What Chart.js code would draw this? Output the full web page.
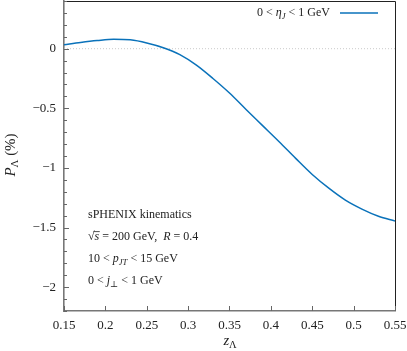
<!DOCTYPE html>
<html>
<head>
<meta charset="utf-8">
<script src="https://cdn.jsdelivr.net/npm/chart.js@4.4.1/dist/chart.umd.min.js"></script>
<style>
  html, body { margin: 0; padding: 0; background: #fff; }
  canvas { display: block; }
</style>
</head>
<body>
<canvas id="pol-chart" width="407" height="351"></canvas>
<script>
// values
const zLambda = [0.15, 0.17, 0.19, 0.21, 0.23, 0.25, 0.27, 0.29, 0.31, 0.33, 0.35,
                 0.37, 0.39, 0.41, 0.43, 0.45, 0.47, 0.49, 0.51, 0.53, 0.55];
const polLambda = [0.033, 0.052, 0.068, 0.079, 0.074, 0.048, 0.008, -0.05, -0.138, -0.25, -0.372,
                   -0.51, -0.645, -0.78, -0.92, -1.055, -1.17, -1.27, -1.345, -1.405, -1.445];
const yMajorTicks = [0, -0.5, -1, -1.5, -2];
const xTickStep = 0.05;

const SERIF = '"Liberation Serif", "DejaVu Serif", serif';
const LINE_BLUE = '#0a72ba';
const TEXT_COL = '#222';

function fontFor(p, size) {
    const s = p.sub ? size * 0.72 : size;
    return (p.i ? 'italic ' : '') + s + 'px ' + SERIF;
}

// draws a run of text pieces (italic, subscript, overbar) on one baseline
function drawRich(ctx, x, y, parts, size, align) {
    let total = 0;
    parts.forEach(p => {
        ctx.font = fontFor(p, size);
        p.w = ctx.measureText(p.t).width;
        total += p.w;
    });
    let cx = x;
    if (align === 'right') cx = x - total;
    if (align === 'center') cx = x - total / 2;
    ctx.textAlign = 'left';
    ctx.textBaseline = 'middle';
    parts.forEach(p => {
        ctx.font = fontFor(p, size);
        const dy = p.sub ? size * 0.3 : 0;
        ctx.fillText(p.t, cx, y + dy);
        if (p.bar) {
            ctx.beginPath();
            ctx.lineWidth = 0.8;
            ctx.moveTo(cx - 1, y - size * 0.45);
            ctx.lineTo(cx + p.w + 0.5, y - size * 0.45);
            ctx.stroke();
        }
        cx += p.w;
    });
}

const decorPlugin = {
    id: 'decor',
    beforeDatasetsDraw(chart) {
        const ctx = chart.ctx, area = chart.chartArea;
        const y0 = chart.scales.y.getPixelForValue(0);
        ctx.save();
        ctx.strokeStyle = '#bbb';
        ctx.lineWidth = 0.8;
        ctx.setLineDash([1, 2]);
        ctx.beginPath();
        ctx.moveTo(area.left, y0);
        ctx.lineTo(area.right, y0);
        ctx.stroke();
        ctx.restore();
    },
    afterDraw(chart) {
        const ctx = chart.ctx, area = chart.chartArea;
        const xs = chart.scales.x, ys = chart.scales.y;
        ctx.save();

        // frame
        ctx.strokeStyle = '#222';
        ctx.lineWidth = 1;
        ctx.beginPath();
        ctx.moveTo(area.left, area.top + 0.5);
        ctx.lineTo(area.right + 0.5, area.top + 0.5);
        ctx.lineTo(area.right + 0.5, area.bottom);
        ctx.stroke();

        // inward ticks
        ctx.strokeStyle = '#666';
        ctx.lineWidth = 1;
        ys.ticks.forEach(t => {
            const py = Math.round(ys.getPixelForValue(t.value)) + 0.5;
            const major = yMajorTicks.some(m => Math.abs(m - t.value) < 1e-6);
            ctx.beginPath();
            ctx.moveTo(area.left, py);
            ctx.lineTo(area.left + (major ? 5 : 3), py);
            ctx.stroke();
        });
        xs.ticks.forEach(t => {
            const px = Math.round(xs.getPixelForValue(t.value)) + 0.5;
            ctx.beginPath();
            ctx.moveTo(px, area.bottom);
            ctx.lineTo(px, area.bottom - 5);
            ctx.stroke();
        });

        // tick labels from the scales' own ticks
        ctx.fillStyle = TEXT_COL;
        ctx.font = '13px ' + SERIF;
        ctx.textBaseline = 'middle';
        ctx.textAlign = 'center';
        xs.ticks.forEach(t => {
            ctx.fillText(String(Number(t.value.toFixed(2))), xs.getPixelForValue(t.value), area.bottom + 15);
        });
        ctx.textAlign = 'right';
        ys.ticks.forEach(t => {
            const hit = yMajorTicks.find(m => Math.abs(m - t.value) < 1e-6);
            if (hit === undefined) return;
            ctx.fillText(String(hit).replace('-', '−'), area.left - 8, ys.getPixelForValue(t.value));
        });

        ctx.strokeStyle = TEXT_COL;

        // legend
        drawRich(ctx, 330, 13, [{t: '0 < '}, {t: 'η', i: true}, {t: 'J', i: true, sub: true}, {t: ' < 1 GeV'}], 12, 'right');
        ctx.strokeStyle = LINE_BLUE;
        ctx.lineWidth = 1.6;
        ctx.beginPath();
        ctx.moveTo(340, 13);
        ctx.lineTo(378, 13);
        ctx.stroke();
        ctx.strokeStyle = TEXT_COL;

        // kinematics notes
        const notes = [
            [{t: 'sPHENIX kinematics'}],
            [{t: '√'}, {t: 's', i: true, bar: true}, {t: ' = 200 GeV,  '}, {t: 'R', i: true}, {t: ' = 0.4'}],
            [{t: '10 < '}, {t: 'p', i: true}, {t: 'JT', i: true, sub: true}, {t: ' < 15 GeV'}],
            [{t: '0 < '}, {t: 'j', i: true}, {t: '⊥', sub: true}, {t: ' < 1 GeV'}]
        ];
        notes.forEach((n, k) => drawRich(ctx, 88, 215 + k * 22, n, 12, 'left'));

        // axis titles
        drawRich(ctx, 230, 341, [{t: 'z', i: true}, {t: 'Λ', sub: true}], 14.5, 'center');
        ctx.translate(11, 155);
        ctx.rotate(-Math.PI / 2);
        drawRich(ctx, 0, 0, [{t: 'P', i: true}, {t: 'Λ', sub: true}, {t: ' (%)'}], 15, 'center');

        ctx.restore();
    }
};

const ctxPol = document.getElementById('pol-chart').getContext('2d');
const polChart = new Chart(ctxPol, {
    type: 'line',
    data: {
        datasets: [{
            label: '0 < ηJ < 1 GeV',
            data: zLambda.map((z, i) => ({x: z, y: polLambda[i]})),
            borderColor: LINE_BLUE,
            borderWidth: 1.5,
            pointRadius: 0,
            cubicInterpolationMode: 'monotone',
            fill: false
        }]
    },
    options: {
        responsive: false,
        animation: false,
        devicePixelRatio: 1,
        layout: { padding: { top: 1, right: 12, left: 0, bottom: 0 } },
        plugins: { legend: { display: false }, tooltip: { enabled: false } },
        scales: {
            x: {
                type: 'linear',
                min: 0.15,
                max: 0.55,
                afterFit(scale) { scale.height = 40; },
                grid: { display: false, drawTicks: false },
                border: { display: true, color: '#777', width: 1.6 },
                ticks: { stepSize: xTickStep, display: false, autoSkip: false }
            },
            y: {
                type: 'linear',
                min: -2.2,
                max: 0.4,
                afterFit(scale) { scale.width = 64; },
                grid: { display: false, drawTicks: false },
                border: { display: true, color: '#777', width: 1.6 },
                ticks: { stepSize: 0.1, display: false, autoSkip: false }
            }
        }
    },
    plugins: [decorPlugin]
});
</script>
</body>
</html>
